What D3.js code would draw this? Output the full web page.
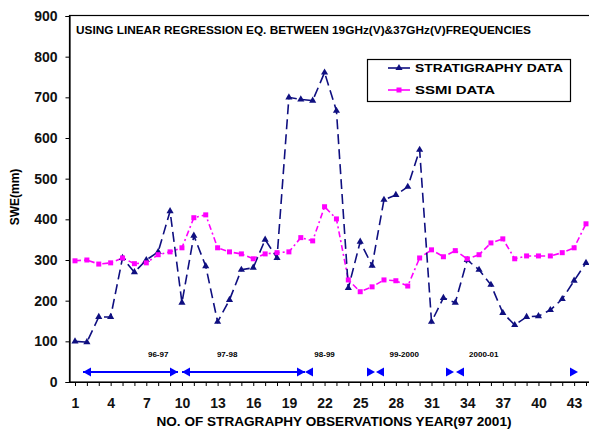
<!DOCTYPE html>
<html><head><meta charset="utf-8">
<script src="https://cdn.jsdelivr.net/npm/d3@7"></script>
<style>
body{margin:0;background:#fff;}
svg{display:block;font-family:"Liberation Sans",Arial,sans-serif;}
</style></head>
<body><svg id="c" width="589" height="437"></svg>
<script>
const observations = d3.range(1, 45);
const stratigraphy = [100,98,160,160,305,270,300,320,420,195,360,285,148,202,276,281,350,305,700,695,692,761,667,231,345,286,448,460,480,571,148,207,195,300,276,239,170,140,160,162,177,204,249,293];
const ssmi = [298,300,290,293,305,291,293,313,320,330,404,411,330,320,315,303,315,318,320,355,347,431,401,251,222,234,251,249,236,305,325,308,323,303,313,342,352,303,310,310,310,318,330,389];
const xTickLabels = [1,4,7,10,13,16,19,22,25,28,31,34,37,40,43];
const yTicks = [0,100,200,300,400,500,600,700,800,900];
const seasonLabels = ["96-97","97-98","98-99","99-2000","2000-01"];
const seasonLabelPos = [8,13.8,22,28.7,35.4];

const svg = d3.select("#c");
const x = d3.scaleLinear().domain([1,44]).range([75,586]);
const y = d3.scaleLinear().domain([0,900]).range([382,16]);

// frame
svg.append("rect").attr("x",69.5).attr("y",y(900)-0.5).attr("width",540).attr("height",y(0)-y(900)+0.5)
  .attr("fill","none").attr("stroke","#000").attr("stroke-width",1.2);

// y axis
const ya = svg.append("g").attr("transform","translate(69.5,0)")
  .call(d3.axisLeft(y).tickValues(yTicks).tickSize(4).tickPadding(8));
ya.select(".domain").attr("stroke","#000").attr("stroke-width",1.2);
ya.selectAll("text").attr("font-size",14).attr("font-weight","bold").attr("fill","#111");

// x axis
const xa = svg.append("g").attr("transform",`translate(0,${y(0)})`)
  .call(d3.axisBottom(x).tickValues(observations).tickSize(4).tickPadding(12)
    .tickFormat(d => xTickLabels.includes(d) ? String(d) : ""));
xa.select(".domain").attr("d",`M69.5,0.5H589`).attr("stroke","#000").attr("stroke-width",1.2);
xa.selectAll("text").attr("font-size",14).attr("font-weight","bold").attr("fill","#111");

// title
svg.append("text").attr("x",76).attr("y",34).attr("font-size",10.5).attr("font-weight","bold")
  .attr("textLength",455).attr("lengthAdjust","spacingAndGlyphs")
  .text("USING LINEAR REGRESSION EQ. BETWEEN 19GHz(V)&37GHz(V)FREQUENCIES");

// axis titles
svg.append("text").attr("transform","translate(19,197) rotate(-90)").attr("text-anchor","middle")
  .attr("font-size",12).attr("font-weight","bold").text("SWE(mm)");
svg.append("text").attr("x",334).attr("y",426).attr("text-anchor","middle")
  .attr("font-size",12).attr("font-weight","bold").attr("textLength",355).attr("lengthAdjust","spacingAndGlyphs")
  .text("NO. OF STRAGRAPHY OBSERVATIONS YEAR(97 2001)");

// lines
const line = d3.line().x((d,i)=>x(observations[i])).y(d=>y(d));
svg.append("path").datum(ssmi).attr("d",line).attr("fill","none").attr("stroke","#ff00ff")
  .attr("stroke-width",1.6).attr("stroke-dasharray","6,3,2,3");
svg.append("path").datum(stratigraphy).attr("d",line).attr("fill","none").attr("stroke","#0f0f80")
  .attr("stroke-width",1.6).attr("stroke-dasharray","10,5");
const tri = d3.symbol().type(d3.symbolTriangle).size(22);
svg.append("g").selectAll("path").data(stratigraphy).join("path")
  .attr("transform",(d,i)=>`translate(${x(observations[i])},${y(d)})`).attr("d",tri).attr("fill","#0f0f80");
svg.append("g").selectAll("rect").data(ssmi).join("rect")
  .attr("x",(d,i)=>x(observations[i])-2.5).attr("y",d=>y(d)-2.5).attr("width",5).attr("height",5).attr("fill","#ff00ff");

// legend
const lg = svg.append("g");
lg.append("rect").attr("x",367.5).attr("y",59.5).attr("width",203).attr("height",42).attr("fill","#fff").attr("stroke","#000").attr("stroke-width",1.2);
lg.append("line").attr("x1",388).attr("x2",410).attr("y1",68).attr("y2",68).attr("stroke","#0f0f80").attr("stroke-width",1.6);
lg.append("path").attr("d",tri).attr("transform","translate(399,68)").attr("fill","#0f0f80");
lg.append("text").attr("x",415).attr("y",72).attr("font-size",11).attr("font-weight","bold").attr("textLength",148).attr("lengthAdjust","spacingAndGlyphs").text("STRATIGRAPHY DATA");
lg.append("line").attr("x1",388).attr("x2",410).attr("y1",90).attr("y2",90).attr("stroke","#ff00ff").attr("stroke-width",1.6);
lg.append("rect").attr("x",396.5).attr("y",87.5).attr("width",5).attr("height",5).attr("fill","#ff00ff");
lg.append("text").attr("x",415).attr("y",94).attr("font-size",11).attr("font-weight","bold").attr("textLength",80).attr("lengthAdjust","spacingAndGlyphs").text("SSMI DATA");

// season annotations
svg.append("g").selectAll("text").data(seasonLabels).join("text")
  .attr("x",(d,i)=>x(seasonLabelPos[i])).attr("y",357).attr("text-anchor","middle")
  .attr("font-size",8).attr("font-weight","bold").text(d=>d);
const blue = "#0000ff";
const ay = 372;
function head(px, dir){ // dir 1 = pointing right
  svg.append("path").attr("d",`M${px},${ay}L${px-dir*8},${ay-4.5}L${px-dir*8},${ay+4.5}Z`).attr("fill",blue);
}
[[83,178],[182,305]].forEach(([a,b])=>{
  svg.append("line").attr("x1",a).attr("x2",b).attr("y1",ay).attr("y2",ay).attr("stroke",blue).attr("stroke-width",2);
  head(a,-1); head(b,1);
});
head(305,-1);
head(375,1); head(376,-1);
head(454,1); head(456,-1);
head(578,1);
</script></body></html>
